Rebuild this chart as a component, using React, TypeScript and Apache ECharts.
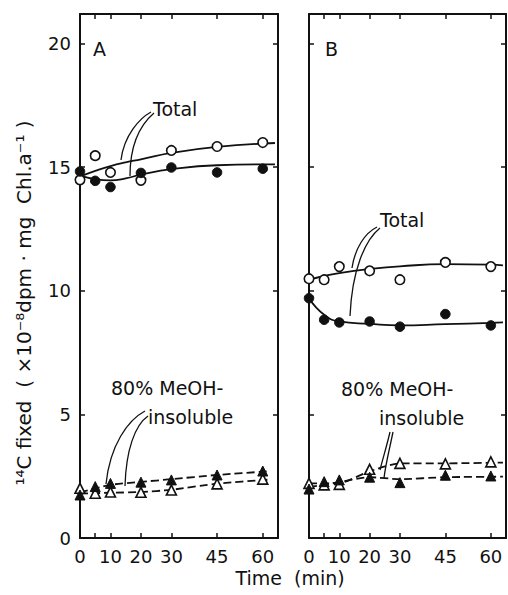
import React, { useEffect, useRef } from "react";
import * as echarts from "echarts";

// Time points (min)
const times = [0, 5, 10, 20, 30, 45, 60];

// Panel A – measured points
const aTotalOpen = [14.49, 15.47, 14.79, 14.47, 15.68, 15.84, 16.0];
const aTotalFilled = [14.83, 14.45, 14.2, 14.77, 14.99, 14.79, 14.94];
const aInsolOpen = [2.01, 1.81, 1.86, 1.85, 1.94, 2.19, 2.38];
const aInsolFilled = [1.74, 2.08, 2.21, 2.26, 2.35, 2.55, 2.71];

// Panel A – fitted curves
const fitTimes = [0, 5, 10, 15, 20, 30, 45, 64];
const aFitOpen = [14.62, 14.85, 15.05, 15.2, 15.32, 15.58, 15.82, 15.98];
const aFitFilled = [14.66, 14.52, 14.47, 14.55, 14.7, 14.92, 15.08, 15.12];
const dashTimes = [0, 10, 20, 30, 45, 62];
const aDashOpen = [1.8, 1.83, 1.86, 1.95, 2.2, 2.36];
const aDashFilled = [1.85, 2.15, 2.27, 2.38, 2.55, 2.7];

// Panel B – measured points
const bTotalOpen = [10.49, 10.45, 10.98, 10.81, 10.45, 11.15, 10.98];
const bTotalFilled = [9.7, 8.83, 8.72, 8.76, 8.55, 9.06, 8.6];
const bInsolOpen = [2.21, 2.15, 2.17, 2.78, 3.02, 3.0, 3.08];
const bInsolFilled = [1.98, 2.28, 2.35, 2.46, 2.24, 2.54, 2.51];

// Panel B – fitted curves
const bFitTimes = [0, 5, 10, 20, 30, 45, 60, 64];
const bFitOpen = [10.45, 10.6, 10.72, 10.88, 10.99, 11.08, 11.06, 11.03];
const bFitFilled = [9.7, 9.03, 8.76, 8.66, 8.6, 8.65, 8.7, 8.72];
const bDashTimes = [0, 10, 20, 30, 45, 64];
const bDashOpen = [2.21, 2.22, 2.7, 3.02, 3.02, 3.05];
const bDashFilled = [2.06, 2.26, 2.46, 2.38, 2.46, 2.48];

// Axis ticks/labels
const xTickValues = [5, 10, 20, 30, 45, 60];
const xLabelValues = [0, 10, 20, 30, 45, 60];
const yTickValues = [5, 10, 15, 20];
const yLabelValues = [0, 5, 10, 15, 20];

const FONT = "DejaVu Sans";
const INK = "#111";

const zip = (xs: number[], ys: number[]) => xs.map((x, i) => [x, ys[i]]);

export default function App() {
  const ref = useRef<HTMLDivElement>(null);

  useEffect(() => {
    if (!ref.current) return;
    const chart = echarts.init(ref.current, undefined, { renderer: "svg" });

    const axisLine = { show: true, onZero: false, lineStyle: { color: INK, width: 2 } };
    const tickStyle = { color: INK, width: 1.5 };

    const xBottom = (grid: number) => ({
      type: "value",
      gridIndex: grid,
      position: "bottom",
      min: 0,
      max: 65,
      axisLine,
      axisTick: { show: true, inside: true, length: 5, customValues: xTickValues, lineStyle: tickStyle },
      axisLabel: {
        show: true,
        customValues: xLabelValues,
        fontSize: 18,
        lineHeight: 18,
        color: INK,
        fontFamily: FONT,
        margin: 9,
      },
      splitLine: { show: false },
    });
    const xTop = (grid: number) => ({
      type: "value",
      gridIndex: grid,
      position: "top",
      min: 0,
      max: 65,
      axisLine,
      axisTick: { show: true, inside: true, length: 5, customValues: xTickValues, lineStyle: tickStyle },
      axisLabel: { show: false },
      splitLine: { show: false },
    });
    const yAx = (grid: number, pos: string, labels: boolean) => ({
      type: "value",
      gridIndex: grid,
      position: pos,
      min: 0,
      max: 21.2,
      axisLine,
      axisTick: { show: true, inside: true, length: 5, customValues: yTickValues, lineStyle: tickStyle },
      axisLabel: labels
        ? { show: true, customValues: yLabelValues, fontSize: 18, color: INK, fontFamily: FONT, margin: 9 }
        : { show: false },
      splitLine: { show: false },
    });

    const fit = (x: number, y: number, xs: number[], ys: number[], dashed: boolean) => ({
      type: "line",
      xAxisIndex: x,
      yAxisIndex: y,
      data: zip(xs, ys),
      smooth: dashed ? 0.2 : 0.5,
      symbol: "none",
      lineStyle: { color: INK, width: 1.8, type: dashed ? [8, 4] : "solid" },
      z: 2,
      silent: true,
    });
    const pts = (x: number, y: number, ys: number[], symbol: string, filled: boolean) => ({
      type: "scatter",
      xAxisIndex: x,
      yAxisIndex: y,
      data: zip(times, ys),
      symbol,
      symbolSize: symbol === "triangle" ? 10 : 9.5,
      itemStyle: filled
        ? { color: INK, borderColor: INK, borderWidth: 1, opacity: 1 }
        : { color: "#fff", borderColor: INK, borderWidth: 1.6, opacity: 1 },
      z: 5,
    });

    const txt = (x: number, y: number, text: string, size = 19, extra: any = {}) => ({
      type: "text",
      x,
      y,
      style: { text, fontSize: size, fontFamily: FONT, fill: INK, ...extra },
      z: 10,
    });
    const curve = (x1: number, y1: number, c1x: number, c1y: number, c2x: number, c2y: number, x2: number, y2: number) => ({
      type: "bezierCurve",
      shape: { x1, y1, cpx1: c1x, cpy1: c1y, cpx2: c2x, cpy2: c2y, x2, y2 },
      style: { stroke: INK, lineWidth: 1.3, fill: null },
      z: 10,
    });

    chart.setOption({
      animation: false,
      backgroundColor: "#fff",
      grid: [
        { left: 80, top: 14, width: 198, height: 524, outerBoundsMode: "none", containLabel: false },
        { left: 309, top: 14, width: 197, height: 524, outerBoundsMode: "none", containLabel: false },
      ],
      xAxis: [xBottom(0), xTop(0), xBottom(1), xTop(1)],
      yAxis: [yAx(0, "left", true), yAx(0, "right", false), yAx(1, "left", false), yAx(1, "right", false)],
      series: [
        fit(0, 0, fitTimes, aFitOpen, false),
        fit(0, 0, fitTimes, aFitFilled, false),
        fit(0, 0, dashTimes, aDashOpen, true),
        fit(0, 0, dashTimes, aDashFilled, true),
        pts(0, 0, aTotalOpen, "circle", false),
        pts(0, 0, aTotalFilled, "circle", true),
        pts(0, 0, aInsolOpen, "triangle", false),
        pts(0, 0, aInsolFilled, "triangle", true),
        fit(2, 2, bFitTimes, bFitOpen, false),
        fit(2, 2, bFitTimes, bFitFilled, false),
        fit(2, 2, bDashTimes, bDashOpen, true),
        fit(2, 2, bDashTimes, bDashFilled, true),
        pts(2, 2, bTotalOpen, "circle", false),
        pts(2, 2, bTotalFilled, "circle", true),
        pts(2, 2, bInsolOpen, "triangle", false),
        pts(2, 2, bInsolFilled, "triangle", true),
      ],
      graphic: [
        txt(93, 39, "A", 19),
        txt(325, 39, "B", 19),
        txt(153, 99, "Total", 19),
        txt(380, 210, "Total", 19),
        txt(111, 378, "80% MeOH-", 19),
        txt(148, 407, "insoluble", 19),
        txt(341, 379, "80% MeOH-", 19),
        txt(379, 408, "insoluble", 19),
        curve(151, 112, 140, 118, 124, 135, 121, 160),
        curve(154, 113, 140, 125, 130, 145, 130, 176),
        curve(377, 227, 365, 233, 355, 248, 352, 268),
        curve(380, 228, 365, 240, 352, 270, 350, 316),
        curve(145, 411, 128, 420, 110, 445, 106, 484),
        curve(148, 416, 135, 425, 126, 450, 125, 486),
        curve(390, 432, 387, 445, 383, 458, 380, 470),
        curve(393, 432, 390, 447, 386, 462, 384, 478),
        {
          type: "text",
          x: 24,
          y: 303,
          rotation: Math.PI / 2,
          style: {
            text: "\u00b9\u2074C fixed  ( \u00d710\u207b\u2078dpm \u00b7 mg  Chl.a\u207b\u00b9 )",
            fontSize: 20,
            fontFamily: FONT,
            fill: INK,
            align: "center",
            verticalAlign: "middle",
          },
          z: 10,
        },
        txt(290, 578, "Time  (min)", 19, { align: "center", verticalAlign: "middle", lineHeight: 19 }),
      ],
    });

    return () => chart.dispose();
  }, []);

  return (
    <div
      ref={ref}
      style={{ position: "absolute", left: 0, top: 0, width: 508, height: 595, background: "#fff" }}
    />
  );
}
